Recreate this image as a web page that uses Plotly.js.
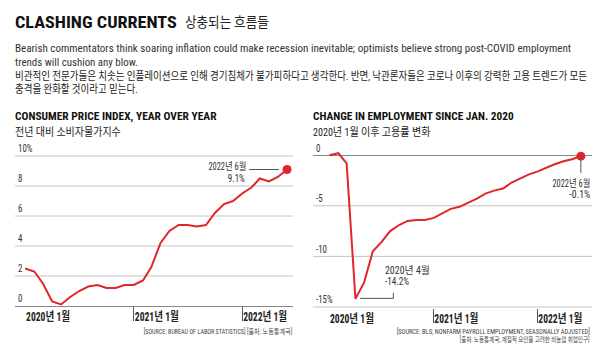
<!DOCTYPE html>
<html><head><meta charset="utf-8">
<script src="https://cdn.plot.ly/plotly-3.0.1.min.js"></script>
<style>html,body{margin:0;padding:0;background:#fff}#chart{width:600px;height:350px}</style>
</head><body><div id="chart"></div>
<script>
const months = ['2020-01','2020-02','2020-03','2020-04','2020-05','2020-06','2020-07','2020-08','2020-09','2020-10','2020-11','2020-12',
  '2021-01','2021-02','2021-03','2021-04','2021-05','2021-06','2021-07','2021-08','2021-09','2021-10','2021-11','2021-12',
  '2022-01','2022-02','2022-03','2022-04','2022-05','2022-06'];
const cpiValues = [2.5,2.3,1.5,0.3,0.1,0.6,1.0,1.3,1.4,1.2,1.2,1.4,
  1.4,1.7,2.6,4.2,5.0,5.4,5.4,5.3,5.4,6.2,6.8,7.0,
  7.5,7.9,8.5,8.3,8.6,9.1];
const employmentValues = [0,0.2,-0.8,-14.2,-12.6,-9.5,-8.6,-7.5,-6.9,-6.5,-6.4,-6.4,
  -6.2,-5.7,-5.3,-5.1,-4.7,-4.3,-3.8,-3.5,-3.3,-2.7,-2.3,-1.9,
  -1.6,-1.2,-0.9,-0.6,-0.4,-0.1];
const xTickVals = ['2020-01-01','2021-01-01','2022-01-01'];
const xTickText = ['2020년 1월','2021년 1월','2022년 1월'];
const cpiTickVals = [0,2,4,6,8,10];
const cpiTickText = ['0','2','4','6','8','10%'];
const empTickVals = [-15,-10,-5,0];
const empTickText = ['-15%','-10','-5','0'];

const RED = '#e0262b';
const FONT = '"Roboto Condensed", Roboto, "Noto Sans CJK KR", sans-serif';
const W = 600, H = 350;
const last = months.length - 1;

const data = [
  {x: months, y: cpiValues, xaxis:'x', yaxis:'y', mode:'lines', line:{color:RED, width:2}, hoverinfo:'skip'},
  {x: [months[last]], y: [cpiValues[last]], xaxis:'x', yaxis:'y', mode:'markers', marker:{color:RED, size:9}, cliponaxis:false, hoverinfo:'skip'},
  {x: months, y: employmentValues, xaxis:'x2', yaxis:'y2', mode:'lines', line:{color:RED, width:2}, hoverinfo:'skip'},
  {x: [months[last]], y: [employmentValues[last]], xaxis:'x2', yaxis:'y2', mode:'markers', marker:{color:RED, size:9}, cliponaxis:false, hoverinfo:'skip'}
];

const annotations = [];
const fitWidths = [];
function ann(text, px, py, size, width, opts) {
  opts = opts || {};
  annotations.push({
    text: text, xref:'paper', yref:'paper', x: px / W, y: (H - py) / H,
    xanchor: opts.right ? 'right' : 'left', align: opts.right ? 'right' : 'left',
    yanchor:'middle', showarrow:false, borderpad:0,
    font:{family: FONT, size: size, color: opts.color || '#222'}
  });
  fitWidths.push(width);
}
ann('<b>CLASHING CURRENTS</b>', 14, 22.5, 17, 162, {color:'#111'});
ann('상충되는 흐름들', 184, 22, 14, 84, {color:'#222'});
ann('Bearish commentators think soaring inflation could make recession inevitable; optimists believe strong post-COVID employment', 14, 48, 11.5, 557, {color:'#333'});
ann('trends will cushion any blow.', 14, 62, 11.5, 123, {color:'#333'});
ann('비관적인 전문가들은 치솟는 인플레이션으로 인해 경기침체가 불가피하다고 생각한다. 반면, 낙관론자들은 코로나 이후의 강력한 고용 트렌드가 모든', 14, 76, 11, 573, {color:'#222'});
ann('충격을 완화할 것이라고 믿는다.', 14, 89.5, 11, 123, {color:'#222'});
ann('<b>CONSUMER PRICE INDEX, YEAR OVER YEAR</b>', 14, 116.7, 10.5, 202, {color:'#111'});
ann('전년 대비 소비자물가지수', 14, 131.7, 11.5, 106, {color:'#222'});
ann('<b>CHANGE IN EMPLOYMENT SINCE JAN. 2020</b>', 312, 116.7, 10.5, 201, {color:'#111'});
ann('2020년 1월 이후 고용률 변화', 312, 131.7, 11.5, 118, {color:'#222'});
ann('2022년 6월', 247, 166, 10, 38, {right:true, color:'#333'});
ann('9.1%', 245.5, 178, 10, 17, {right:true, color:'#333'});
ann('2020년 4월', 384, 270.7, 10, 45, {color:'#333'});
ann('-14.2%', 384, 281.7, 10, 24, {color:'#333'});
ann('2022년 6월', 590.5, 183.3, 10, 38, {right:true, color:'#333'});
ann('-0.1%', 590.5, 194.3, 10, 21, {right:true, color:'#333'});
ann('[SOURCE: BUREAU OF LABOR STATISTICS] [출처: 노동통계국]', 293, 331.7, 7, 149, {right:true, color:'#444'});
ann('[SOURCE: BLS; NONFARM PAYROLL EMPLOYMENT, SEASONALLY ADJUSTED]', 591, 331, 7, 194, {right:true, color:'#444'});
ann('[출처: 노동통계국; 계절적 요인을 고려한 비농업 취업인구]', 591, 339.5, 7, 130, {right:true, color:'#444'});

const GRID = '#c4c4c4';
const shapes = [
  {type:'line', xref:'x', yref:'y', x0:'2022-01-24', x1:'2022-05-05', y0:cpiValues[last], y1:cpiValues[last], line:{color:'#555', width:1}},
  {type:'line', xref:'x2', yref:'y2', x0:months[last], x1:months[last], y0:employmentValues[last], y1:-1.75, line:{color:'#555', width:1}},
  {type:'path', xref:'x2', yref:'y2', path:'M 2020-04-17,-14.15 L 2020-08-12,-14.15 L 2020-08-12,-13.6', line:{color:'#555', width:1}}
];
cpiTickVals.filter(function(v){ return v !== 0; }).forEach(function(v){
  shapes.push({type:'line', xref:'x domain', yref:'y', x0:0, x1:1, y0:v, y1:v, line:{color:GRID, width:1}, layer:'below'});
});
empTickVals.filter(function(v){ return v !== 0; }).forEach(function(v){
  shapes.push({type:'line', xref:'x2 domain', yref:'y2', x0:0, x1:1, y0:v, y1:v, line:{color:GRID, width:1}, layer:'below'});
});

const xTickFont = {family: FONT, size: 12, color:'#222', weight:'bold'};
const yTickFont = {family: FONT, size: 10.5, color:'#333'};

const layout = {
  width:W, height:H, margin:{l:0, r:0, t:0, b:0}, paper_bgcolor:'#fff', plot_bgcolor:'#fff',
  showlegend:false, font:{family:FONT},
  xaxis: {type:'date', tickvals:xTickVals, ticktext:xTickText, ticks:'outside', ticklen:14, tickcolor:'#555', ticklabelposition:'outside right', ticklabeloverflow:'allow', tickfont:xTickFont, showgrid:false, zeroline:false,
    domain:[15/W, 293/W], range:['2019-11-28','2022-06-21'], anchor:'y', showline:true, linecolor:'#888'},
  yaxis: {domain:[(H-306)/H, (H-141)/H], range:[0,11], tickvals:cpiTickVals, ticktext:cpiTickText, tickfont:yTickFont, zeroline:false, anchor:'x',
    showgrid:false, ticklabelposition:'inside top'},
  xaxis2: {type:'date', tickvals:xTickVals, ticktext:xTickText, ticks:'outside', ticklen:14, tickcolor:'#555', ticklabelposition:'outside right', ticklabeloverflow:'allow', tickfont:xTickFont, showgrid:false, zeroline:false,
    domain:[313/W, 592/W], range:['2019-11-04','2022-07-10'], anchor:'y2', showline:false},
  yaxis2: {domain:[(H-308)/H, (H-140)/H], range:[-15.1,1.5], tickvals:empTickVals, ticktext:empTickText, tickfont:yTickFont, zeroline:true, zerolinecolor:'#888', zerolinewidth:1, anchor:'x2',
    showgrid:false, ticklabelposition:'inside top'},
  annotations: annotations, shapes: shapes
};

function squeeze(t, target, anchorRight) {
  const bb = t.getBBox();
  if (!bb.width) return;
  const s = target / bb.width;
  const ax = anchorRight ? bb.x + bb.width : bb.x;
  const prev = t.getAttribute('transform') || '';
  t.setAttribute('transform', (prev + ' translate(' + ax + ',0) scale(' + s.toFixed(4) + ',1) translate(' + (-ax) + ',0)').trim());
}

Plotly.newPlot('chart', data, layout, {staticPlot:true, displayModeBar:false}).then(function(gd){
  gd.querySelectorAll('.annotation').forEach(function(g){
    const i = +g.getAttribute('data-index');
    const t = g.querySelector('text.annotation-text');
    const bg = g.querySelector('rect.bg');
    if (bg) bg.setAttribute('width', 0);
    if (t && fitWidths[i]) squeeze(t, fitWidths[i], annotations[i].xanchor === 'right');
  });
  gd.querySelectorAll('.xtick text, .x2tick text').forEach(function(t){
    t.style.display = '';
    squeeze(t, 44, false);
  });
  gd.querySelectorAll('.ytick text, .y2tick text').forEach(function(t){
    squeeze(t, t.getBBox().width * 0.85, false);
  });
});
</script></body></html>
